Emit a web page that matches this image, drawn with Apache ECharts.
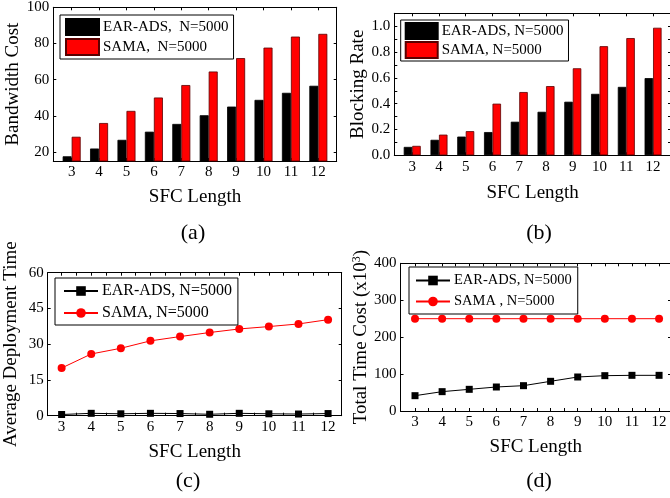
<!DOCTYPE html>
<html>
<head>
<meta charset="utf-8">
<script src="https://cdn.jsdelivr.net/npm/echarts@6/dist/echarts.min.js"></script>
<style>
  html, body { margin: 0; padding: 0; background: #fff; }
  #main { width: 670px; height: 498px; }
</style>
</head>
<body>
<div id="main"></div>
<script>
var sfcLength = [3, 4, 5, 6, 7, 8, 9, 10, 11, 12];

// (a) bandwidth cost
var bwEar = [17.6, 21.9, 26.7, 31.2, 35.5, 40.3, 45.1, 48.8, 52.7, 56.6];
var bwSama = [28.4, 36.0, 42.7, 50.1, 57.0, 64.5, 71.9, 77.7, 83.8, 85.3];
var bwTicks = [20, 40, 60, 80, 100];

// (b) blocking rate
var brEar = [0.065, 0.12, 0.145, 0.18, 0.26, 0.337, 0.415, 0.476, 0.53, 0.598];
var brSama = [0.073, 0.16, 0.187, 0.40, 0.49, 0.536, 0.674, 0.845, 0.908, 0.988];
var brTicks = [0, 0.2, 0.4, 0.6, 0.8, 1.0];
var brMinor = [0, 0.1, 0.2, 0.3, 0.4, 0.5, 0.6, 0.7, 0.8, 0.9, 1.0];

// (c) average deployment time
var dtEar = [0.5, 1.0, 0.8, 1.0, 0.9, 0.6, 1.0, 0.8, 0.7, 0.9];
var dtSama = [20.0, 25.9, 28.3, 31.4, 33.2, 34.9, 36.4, 37.4, 38.5, 40.3];
var dtTicks = [0, 15, 30, 45, 60];

// (d) total time cost (x10^3)
var tcEar = [41.5, 52.4, 58.7, 65.0, 68.6, 80.4, 92.1, 95.7, 96.6, 96.6];
var tcSama = [250, 250, 250, 250, 250, 250, 250, 250, 250, 250];
var tcTicks = [0, 100, 200, 300, 400];

var legendText = {
  a1: 'EAR-ADS,  N=5000', a2: 'SAMA,  N=5000',
  b1: 'EAR-ADS, N=5000', b2: 'SAMA, N=5000',
  c1: 'EAR-ADS, N=5000', c2: 'SAMA, N=5000',
  d1: 'EAR-ADS, N=5000', d2: 'SAMA , N=5000'
};

var FONT = '"Liberation Serif", "Times New Roman", serif';
var halves = [];
for (var h = 3; h <= 12; h += 0.5) halves.push(h);

function pairs(ys) {
  return sfcLength.map(function (x, i) { return [x, ys[i]]; });
}

function xAxes(gi, min, max, minorTicks) {
  var tickVals = minorTicks ? halves : sfcLength;
  return [{
    type: 'value', gridIndex: gi, min: min, max: max,
    name: 'SFC Length', nameLocation: 'middle', nameGap: gi == 1 ? 28 : 27,
    nameTextStyle: { fontFamily: FONT, fontSize: 19, color: '#000' },
    axisLine: { onZero: false, lineStyle: { color: '#000', width: 1 } },
    axisTick: { inside: true, length: 3, customValues: tickVals, lineStyle: { color: '#000' } },
    axisLabel: { customValues: sfcLength, margin: 4, fontFamily: FONT, fontSize: 15, color: '#000' },
    splitLine: { show: false }
  }, {
    type: 'value', gridIndex: gi, min: min, max: max, position: 'top',
    axisLine: { onZero: false, lineStyle: { color: '#000', width: 1 } },
    axisTick: { inside: true, length: 3, customValues: tickVals, lineStyle: { color: '#000' } },
    axisLabel: { show: false },
    splitLine: { show: false }
  }];
}

function yAxes(gi, min, max, name, gap, labels, ticks, fmt) {
  return [{
    type: 'value', gridIndex: gi, min: min, max: max,
    name: name, nameLocation: 'middle', nameGap: gap,
    nameTextStyle: {
      fontFamily: FONT, fontSize: 19, color: '#000',
      rich: { sup: { fontFamily: FONT, fontSize: 12, color: '#000', verticalAlign: 'top', padding: [0, 0, 8, 0] } }
    },
    axisLine: { onZero: false, lineStyle: { color: '#000', width: 1 } },
    axisTick: { inside: true, length: 3, customValues: ticks, lineStyle: { color: '#000' } },
    axisLabel: { customValues: labels, margin: 4, fontFamily: FONT, fontSize: 15, color: '#000', formatter: fmt },
    splitLine: { show: false }
  }, {
    type: 'value', gridIndex: gi, min: min, max: max, position: 'right',
    axisLine: { onZero: false, lineStyle: { color: '#000', width: 1 } },
    axisTick: { inside: true, length: 3, customValues: ticks, lineStyle: { color: '#000' } },
    axisLabel: { show: false },
    splitLine: { show: false }
  }];
}

function barSeries(name, gi, ys, color, border, bw) {
  return {
    name: name, type: 'bar', xAxisIndex: gi * 2, yAxisIndex: gi * 2,
    data: pairs(ys), barWidth: bw, barGap: '0%',
    itemStyle: { color: color, borderColor: border, borderWidth: 0.8 }
  };
}

function lineSeries(name, gi, ys, color, symbol, size) {
  return {
    name: name, type: 'line', xAxisIndex: gi * 2, yAxisIndex: gi * 2,
    data: pairs(ys), symbol: symbol, symbolSize: size,
    lineStyle: { color: color, width: 1 },
    itemStyle: { color: color }
  };
}

function legendFor(names, left, top, size, icon, iw, ih, gap, pad) {
  return {
    data: names, orient: 'vertical', left: left, top: top,
    icon: icon, itemWidth: iw, itemHeight: ih, itemGap: gap, padding: pad,
    borderColor: '#000', borderWidth: 1, selectedMode: false,
    textStyle: { fontFamily: FONT, fontSize: size, color: '#000', padding: [0, 0, 0, -1] },
    formatter: function (n) { return legendText[n]; }
  };
}

function caption(txt, x, y) {
  return {
    type: 'text', x: x, y: y,
    style: { text: txt, fontFamily: FONT, fontSize: 22, fill: '#000',
      align: 'center', verticalAlign: 'middle', textAlign: 'center', textVerticalAlign: 'middle' }
  };
}

var option = {
  backgroundColor: '#fff',
  animation: false,
  grid: [
    { left: 53.3, top: 7.3, width: 283.4, height: 153.7, outerBoundsMode: 'none' },
    { left: 394.3, top: 13.3, width: 276.7, height: 142, outerBoundsMode: 'none' },
    { left: 47.7, top: 272.7, width: 294, height: 143, outerBoundsMode: 'none' },
    { left: 400.5, top: 263.3, width: 270.5, height: 147.7, outerBoundsMode: 'none' }
  ],
  xAxis: [].concat(
    xAxes(0, 2.33, 12.67, false),
    xAxes(1, 2.33, 12.67, false),
    xAxes(2, 2.53, 12.46, true),
    xAxes(3, 2.465, 12.44, true)
  ),
  yAxis: [].concat(
    yAxes(0, 15, 100, 'Bandwidth Cost', 28, bwTicks, bwTicks),
    yAxes(1, 0, 1.1, 'Blocking Rate', 27, brTicks, brMinor, function (v) { return v.toFixed(1); }),
    yAxes(2, 0, 60, 'Average Deployment Time', 27, dtTicks, dtTicks),
    yAxes(3, 0, 400, 'Total Time Cost (x10{sup|3})', 27, tcTicks, tcTicks)
  ),
  legend: [
    legendFor(['a1', 'a2'], 60, 15, 15, 'rect', 33, 16, 2, [3, 5, 3, 5]),
    legendFor(['b1', 'b2'], 400.7, 20, 15, 'rect', 32, 16, 1, [2, 5, 2, 4]),
    legendFor(['c1', 'c2'], 55, 278, 16, null, 34, 12, 6, [5, 6, 4, 8]),
    legendFor(['d1', 'd2'], 409, 267, 14.5, null, 34, 12, 6, [6, 6, 5, 6])
  ],
  series: [
    barSeries('a1', 0, bwEar, '#000', '#000', 9),
    barSeries('a2', 0, bwSama, '#ff0000', '#5a0000', 9),
    barSeries('b1', 1, brEar, '#000', '#000', 8.5),
    barSeries('b2', 1, brSama, '#ff0000', '#5a0000', 8.5),
    lineSeries('c1', 2, dtEar, '#000', 'rect', 7),
    lineSeries('c2', 2, dtSama, '#ff0000', 'circle', 8),
    lineSeries('d1', 3, tcEar, '#000', 'rect', 7),
    lineSeries('d2', 3, tcSama, '#ff0000', 'circle', 8)
  ],
  graphic: [
    caption('(a)', 193, 233),
    caption('(b)', 539, 233),
    caption('(c)', 188, 481),
    caption('(d)', 539, 481)
  ]
};

var myChart = echarts.init(document.getElementById('main'), null, { renderer: 'canvas' });
myChart.setOption(option);
</script>
</body>
</html>
